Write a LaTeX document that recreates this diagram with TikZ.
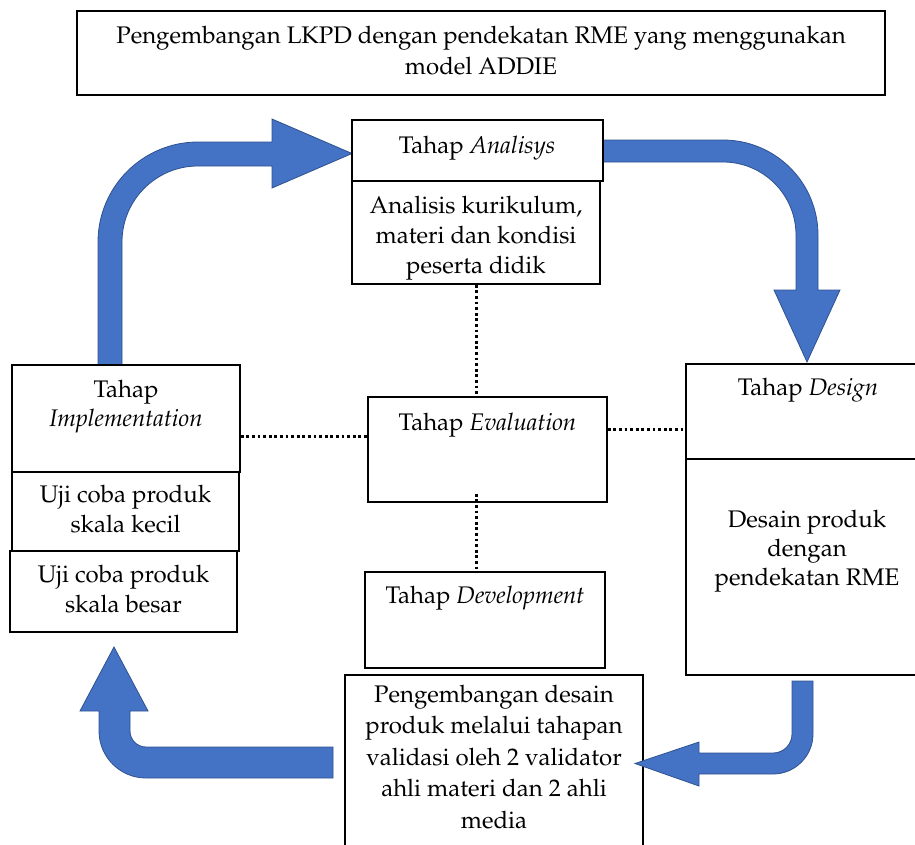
\documentclass[tikz,border=0pt]{standalone}
\usepackage[T1]{fontenc}
\usepackage{mathpazo}
\usetikzlibrary{positioning}
\definecolor{arrowblue}{HTML}{4472C4}
\definecolor{arrowedge}{HTML}{2F528F}

\begin{document}
\begin{tikzpicture}[x=1pt, y=-1pt, font=\fontsize{24}{30}\selectfont,
    box/.style={draw, fill=white, line width=1.5pt, inner sep=0pt},
    txt/.style={align=center, inner sep=0pt},
    dotline/.style={line width=3pt, dash pattern=on 2.8pt off 2.8pt},
    blockarrow/.style={fill=arrowblue, draw=arrowedge, line width=0.8pt}]
  \useasboundingbox (0,0) rectangle (915,844);

  % block arrows
  \path[blockarrow] (98,365) -- (98,242) arc[start angle=180, end angle=270, radius=100]
        -- (272,142) -- (272,119) -- (352,153.5) -- (272,188) -- (272,166) -- (198,166)
        arc[start angle=270, end angle=180, radius=76] -- (122,365) -- cycle;
  \path[blockarrow] (603,140) -- (723,140) arc[start angle=270, end angle=360, radius=95]
        -- (818,290) -- (840,290) -- (807,362) -- (774,290) -- (796,290) -- (796,235)
        arc[start angle=0, end angle=-90, radius=73] -- (603,162) -- cycle;
  \path[blockarrow] (333,747) -- (146,747) arc[start angle=90, end angle=180, radius=16]
        -- (130,711) -- (148,711) -- (114,647) -- (80,711) -- (99,711) -- (99,731)
        arc[start angle=180, end angle=90, radius=47] -- (333,778) -- cycle;

  % boxes
  \node[box, minimum width=808pt, minimum height=84pt] (title) at (481,53) {};
  \node[box, minimum width=251pt, minimum height=61pt] (ana) at (477.5,150.5) {};
  \node[box, minimum width=248pt, minimum height=103pt] (anacont) at (476,232.5) {};
  \node[box, minimum width=228pt, minimum height=107pt] (impl) at (126,418.5) {};
  \node[box, minimum width=227pt, minimum height=79pt] (kecil) at (125.5,511.5) {};
  \node[box, minimum width=227pt, minimum height=81pt] (besar) at (123.5,591.5) {};
  \node[box, minimum width=239pt, minimum height=105pt] (eval) at (487.5,449.5) {};
  \node[box, minimum width=240pt, minimum height=96pt] (dev) at (485,620) {};
  \node[box, minimum width=244pt, minimum height=95pt] (design) at (808,411.5) {};
  \node[box, minimum width=244pt, minimum height=216pt] (descont) at (808,567) {};
  \node[box, minimum width=298pt, minimum height=195pt] (valid) at (494,772.5) {};

  % this one lies over the box it points at
  \path[blockarrow] (813,681) -- (813,734) arc[start angle=0, end angle=90, radius=40]
        -- (699,774) -- (699,786) -- (635,763.5) -- (699,742) -- (699,753) -- (773,753)
        arc[start angle=90, end angle=0, radius=19] -- (792,681) -- cycle;

  % texts
  \node[txt, font=\fontsize{24}{31}\selectfont] (titletxt) at (481,50.5)
        {Pengembangan LKPD dengan pendekatan RME yang menggunakan\\model ADDIE};
  \node[txt, anchor=base] (anatxt) at (477,153) {Tahap \textit{Analisys}};
  \node[txt] (anaconttxt) at (476,238) {Analisis kurikulum,\\materi dan kondisi\\peserta didik};
  \node[txt, font=\fontsize{24}{29}\selectfont] (impltxt) at (126,407) {Tahap\\\textit{Implementation}};
  \node[txt] (keciltxt) at (125.5,509) {Uji coba produk\\skala kecil};
  \node[txt] (besartxt) at (123.5,589) {Uji coba produk\\skala besar};
  \node[txt, anchor=base] (evaltxt) at (487.5,430) {Tahap \textit{Evaluation}};
  \node[txt, anchor=base] (devtxt) at (485,603) {Tahap \textit{Development}};
  \node[txt, anchor=base] (designtxt) at (808,395) {Tahap \textit{Design}};
  \node[txt, font=\fontsize{24}{29}\selectfont] (descontxt) at (807,551) {Desain produk\\dengan\\pendekatan RME};
  \node[txt, font=\fontsize{24}{31.5}\selectfont] (validtxt) at (494,757)
        {Pengembangan desain\\produk melalui tahapan\\validasi oleh 2 validator\\ahli materi dan 2 ahli\\media};

  % dotted links
  \draw[dotline] (anacont.south) -- (anacont.south |- eval.north);
  \draw[dotline] (impl.east |- 0,436) -- (eval.west |- 0,436);
  \draw[dotline] (eval.east |- 0,429) -- (design.west |- 0,429);
  \draw[dotline] ([yshift=9pt]eval.south -| anacont.south) -- (dev.north -| anacont.south);
\end{tikzpicture}
\end{document}
